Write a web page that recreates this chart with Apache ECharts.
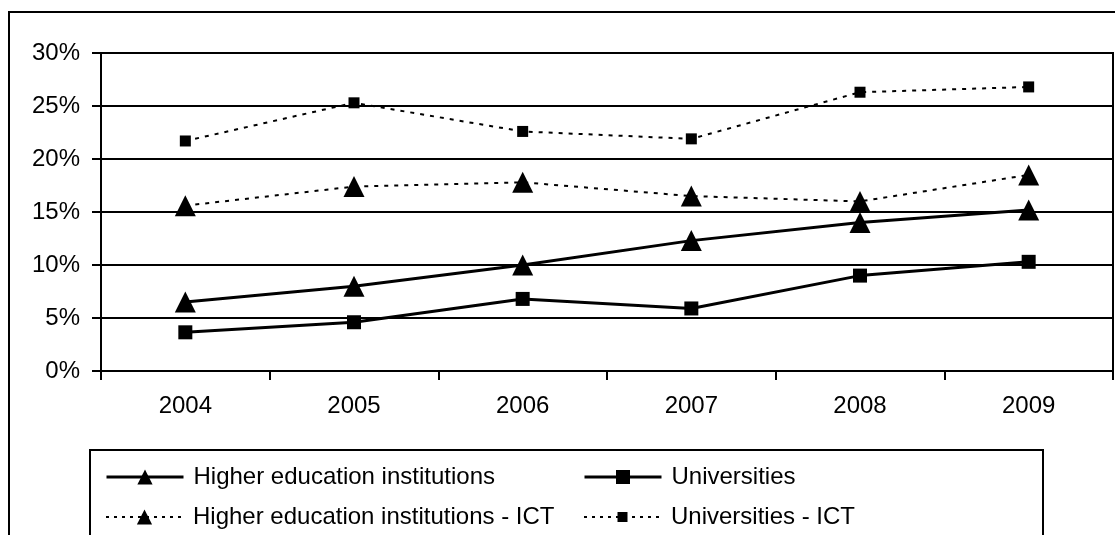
<!DOCTYPE html>
<html>
<head>
<meta charset="utf-8">
<script src="https://cdn.jsdelivr.net/npm/echarts@6/dist/echarts.min.js"></script>
<style>
html,body{margin:0;padding:0;background:#fff;}
#c{width:1115px;height:535px;}
</style>
</head>
<body>
<div id="c"></div>
<script>
const categories = ['2004', '2005', '2006', '2007', '2008', '2009'];
const hei = [6.5, 8.0, 10.0, 12.3, 14.0, 15.2];
const universities = [3.65, 4.6, 6.8, 5.9, 9.0, 10.3];
const heiIct = [15.6, 17.4, 17.8, 16.5, 16.0, 18.5];
const universitiesIct = [21.7, 25.3, 22.6, 21.9, 26.3, 26.8];
const names = ['Higher education institutions', 'Universities', 'Higher education institutions - ICT', 'Universities - ICT'];

const FONT = '"Liberation Sans", Arial, sans-serif';
const chart = echarts.init(document.getElementById('c'));

function legend(name, left, top, h, lineStyle) {
  return {
    data: [name], left: left, top: top, orient: 'vertical', padding: 0,
    itemWidth: 77, itemHeight: h, selectedMode: false,
    lineStyle: lineStyle,
    itemStyle: { color: '#000', borderWidth: 0 },
    textStyle: { fontFamily: FONT, fontSize: 24, color: '#000', lineHeight: 24, padding: [0, 0, 0, 5] }
  };
}
const solid = { color: '#000', width: 3, type: 'solid' };
const dashed = { color: '#000', width: 2, type: [3, 5] };

chart.setOption({
  backgroundColor: '#fff',
  animation: false,
  graphic: [
    { type: 'rect', shape: { x: 9, y: 12, width: 1200, height: 700 }, style: { fill: null, stroke: '#000', lineWidth: 2 }, silent: true },
    { type: 'rect', shape: { x: 90, y: 450, width: 953, height: 200 }, style: { fill: null, stroke: '#000', lineWidth: 2 }, silent: true }
  ],
  legend: [
    legend(names[0], 105, 465, 19, solid),
    legend(names[1], 583, 465, 17.5, solid),
    legend(names[2], 105, 505, 19, dashed),
    legend(names[3], 583, 505, 12.5, dashed)
  ],
  grid: { left: 101, top: 53, right: 2, bottom: 164, show: true, borderColor: '#000', borderWidth: 2, backgroundColor: 'transparent' },
  xAxis: {
    type: 'category', data: categories, boundaryGap: true,
    axisLine: { lineStyle: { color: '#000', width: 2 } },
    axisTick: { show: true, length: 9, lineStyle: { color: '#000', width: 2 } },
    axisLabel: { fontFamily: FONT, fontSize: 24, color: '#000', margin: 23 }
  },
  yAxis: {
    type: 'value', min: 0, max: 30, interval: 5,
    axisLine: { show: true, lineStyle: { color: '#000', width: 2 } },
    axisTick: { show: true, length: 9, lineStyle: { color: '#000', width: 2 } },
    splitLine: { show: true, lineStyle: { color: '#000', width: 2 } },
    axisLabel: { fontFamily: FONT, fontSize: 24, color: '#000', margin: 21, formatter: '{value}%' }
  },
  series: [
    { name: names[0], type: 'line', data: hei, symbol: 'triangle', symbolSize: 21,
      lineStyle: { color: '#000', width: 3 }, itemStyle: { color: '#000' } },
    { name: names[1], type: 'line', data: universities, symbol: 'rect', symbolSize: 14,
      lineStyle: { color: '#000', width: 3 }, itemStyle: { color: '#000' } },
    { name: names[2], type: 'line', data: heiIct, symbol: 'triangle', symbolSize: 21,
      lineStyle: { color: '#000', width: 2, type: [4, 6] }, itemStyle: { color: '#000' } },
    { name: names[3], type: 'line', data: universitiesIct, symbol: 'rect', symbolSize: 11,
      lineStyle: { color: '#000', width: 2, type: [4, 6] }, itemStyle: { color: '#000' } }
  ]
});
</script>
</body>
</html>
